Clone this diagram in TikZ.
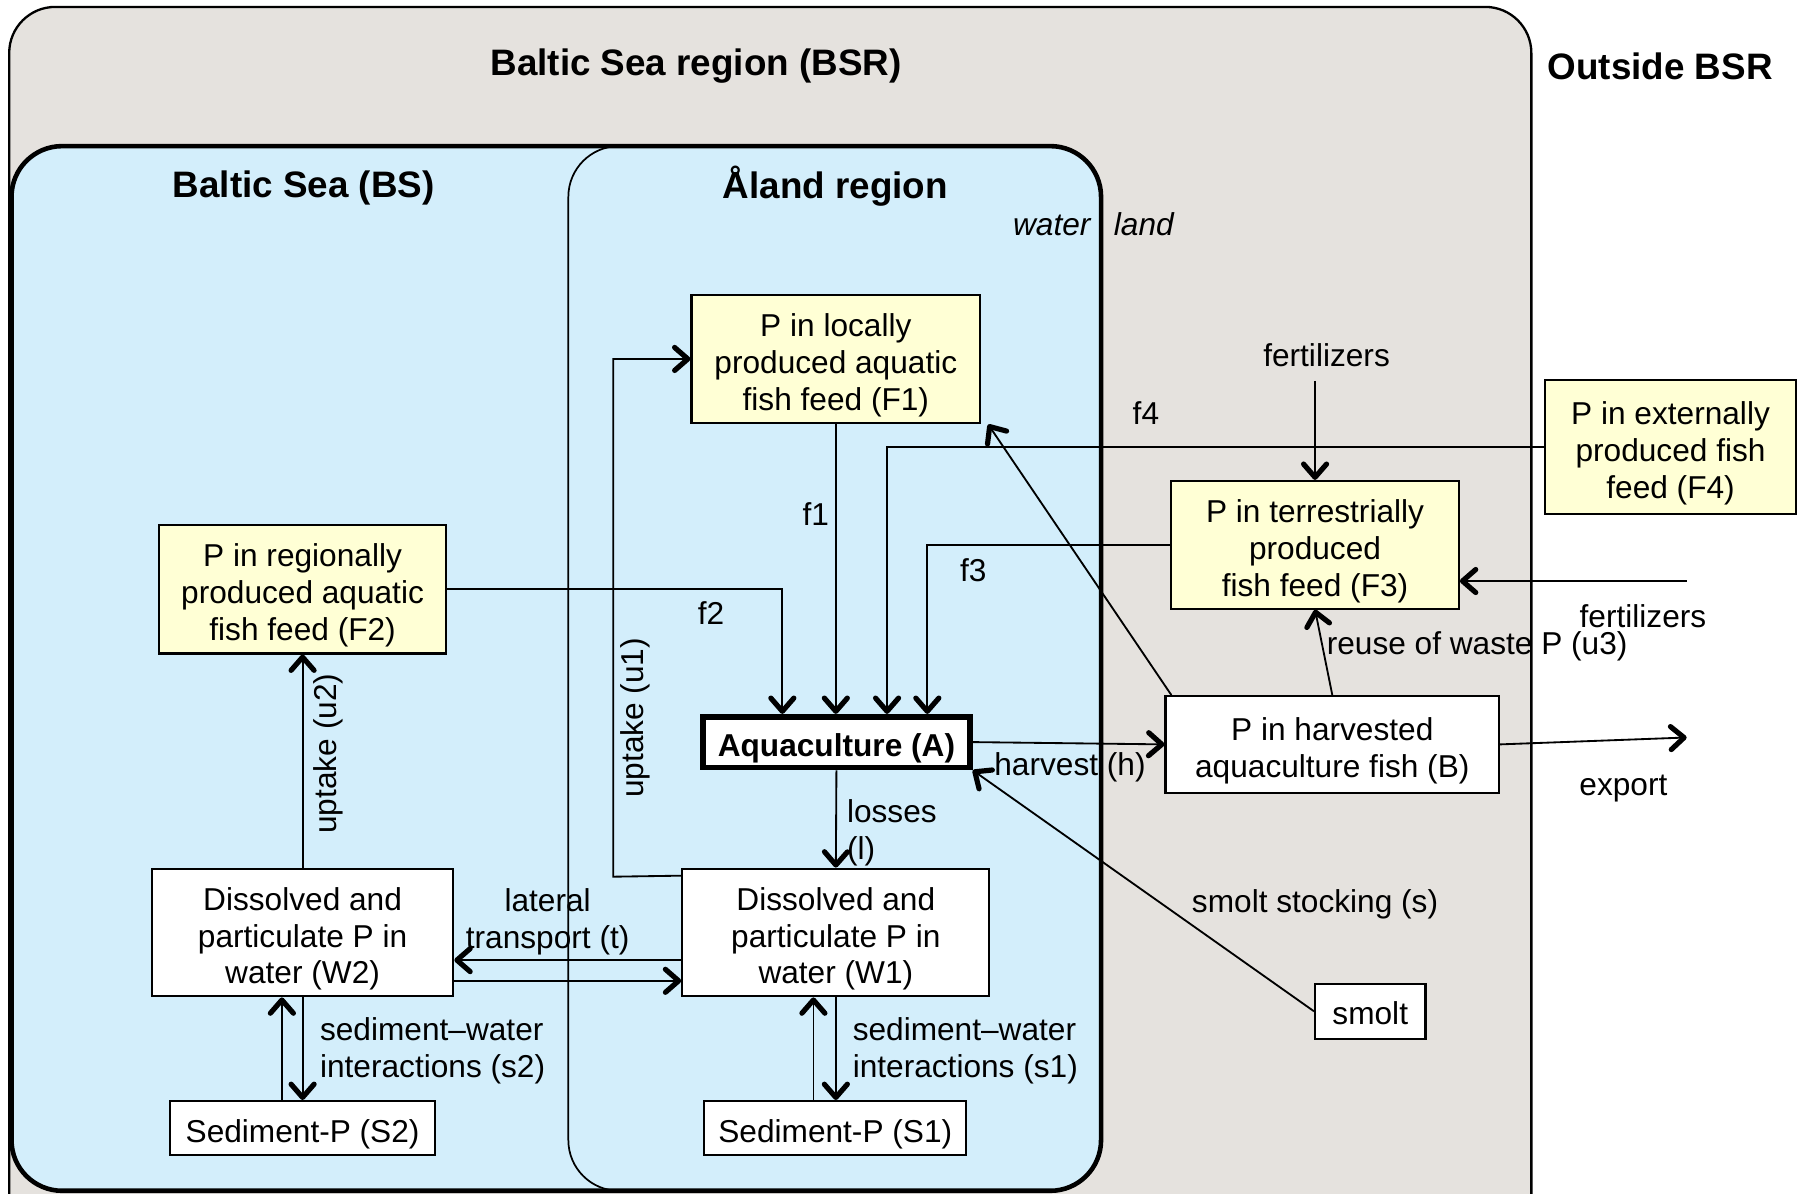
\documentclass[tikz,border=0pt]{standalone}
\usepackage{fontspec}
\setmainfont{Liberation Sans}
\usetikzlibrary{arrows.meta,calc}
\definecolor{bsrgray}{RGB}{229,226,222}
\definecolor{bsblue}{RGB}{211,238,251}
\definecolor{feedyellow}{RGB}{255,255,213}
\tikzset{
  box/.style={draw=black, line width=1.8pt, fill=white, inner sep=0pt},
  feed/.style={box, fill=feedyellow},
  boxlbl/.style={font=\fontsize{27.5}{32}\selectfont, inner sep=0pt, align=center, yshift=-5.5pt},
  txt/.style={label={[boxlbl]center:{#1}}},
  btxt/.style={label={[boxlbl, font=\fontsize{27.5}{32}\selectfont\bfseries]center:{#1}}},
  lbl/.style={font=\fontsize{27.5}{32}\selectfont, inner sep=0pt, align=center},
  ttl/.style={font=\fontsize{32}{38}\selectfont\bfseries, inner sep=0pt},
  arr/.style={line width=1.6pt, -{Straight Barb[length=11.5pt,width=20pt,line width'=4.5pt, round]}},
}
\begin{document}
\begin{tikzpicture}[x=1pt,y=-1pt]
\useasboundingbox (0,0) rectangle (1568,1037);
\clip (0,0) rectangle (1568,1037);
\fill[white] (0,0) rectangle (1568,1037);
% regions
\draw[line width=2pt, fill=bsrgray, rounded corners=40pt] (8,6) rectangle (1331,1100);
\fill[bsblue, rounded corners=44pt] (10,127) rectangle (957,1035);
\draw[line width=1.5pt, rounded corners=44pt] (494,127) rectangle (957,1035);
\draw[line width=4pt, rounded corners=44pt] (10,127) rectangle (957,1035);
% titles
\node[ttl] (tBSR) at (605,57) {Baltic Sea region (BSR)};
\node[ttl] (tOut) at (1443,58) {Outside BSR};
\node[ttl] (tBS) at (264,163) {Baltic Sea (BS)};
\node[ttl] (tAl) at (726,162) {Åland region};
\node[lbl, font=\fontsize{27.5}{32}\selectfont\itshape, anchor=mid east] (wat) at (948,202) {water};
\node[lbl, font=\fontsize{27.5}{32}\selectfont\itshape, anchor=mid west] (land) at (968,202) {land};
% boxes
\node[feed, minimum width=251pt, minimum height=112pt, txt={P in locally\\produced aquatic\\fish feed (F1)}] (F1) at (726.5,312) {};
\node[feed, minimum width=250pt, minimum height=112pt, txt={P in regionally\\produced aquatic\\fish feed (F2)}] (F2) at (263,512) {};
\node[feed, minimum width=250pt, minimum height=111pt, txt={P in terrestrially\\produced\\fish feed (F3)}] (F3) at (1143,473.5) {};
\node[feed, minimum width=218pt, minimum height=117pt, txt={P in externally\\produced fish\\feed (F4)}] (F4) at (1452,388.5) {};
\node[box, line width=5pt, minimum width=232pt, minimum height=44pt, btxt={Aquaculture (A)}] (A) at (727,645) {};
\node[box, minimum width=290pt, minimum height=84pt, txt={P in harvested\\aquaculture fish (B)}] (B) at (1158,647) {};
\node[box, minimum width=262pt, minimum height=111pt, txt={Dissolved and\\particulate P in\\water (W2)}] (W2) at (263,810.5) {};
\node[box, minimum width=267pt, minimum height=111pt, txt={Dissolved and\\particulate P in\\water (W1)}] (W1) at (726.5,810.5) {};
\node[box, minimum width=230pt, minimum height=47pt, txt={Sediment-P (S2)}] (S2) at (263,980.5) {};
\node[box, minimum width=228pt, minimum height=47pt, txt={Sediment-P (S1)}] (S1) at (726,980.5) {};
\node[box, minimum width=96pt, minimum height=48pt, label={[lbl, yshift=-2pt]center:smolt}] (smolt) at (1191,879) {};
% labels
\node[lbl] (lf1) at (709,447) {f1};
\node[lbl] (lf2) at (618,533) {f2};
\node[lbl] (lf3) at (846,496) {f3};
\node[lbl] (lf4) at (996,359) {f4};
\node[lbl] (lfertT) at (1153,309) {fertilizers};
\node[lbl] (lfertR) at (1428,536) {fertilizers};
\node[lbl, anchor=mid west] (lu3) at (1153,566) {reuse of waste P (u3)};
\node[lbl] (lh) at (930,667) {harvest (h)};
\node[lbl] (lexp) at (1411,685) {export};
\node[lbl] (lsm) at (1143,786) {smolt stocking (s)};
\node[lbl, align=left, anchor=west] (ll) at (736,724) {losses\\(l)};
\node[lbl] (lt) at (476,801) {lateral\\transport (t)};
\node[lbl, align=left, anchor=west] (ls2) at (278,913) {sediment–water\\interactions (s2)};
\node[lbl, align=left, anchor=west] (ls1) at (741,913) {sediment–water\\interactions (s1)};
\node[lbl, rotate=90] (lu1) at (552,624) {uptake (u1)};
\node[lbl, rotate=90] (lu2) at (285,655) {uptake (u2)};
% connectors
\draw[arr] (F1.south) -- (F1.south |- A.north);
\draw[arr] (F2.east) -| ([xshift=-47pt]A.north);
\draw[arr] (F4.west) -| ([xshift=44pt]A.north);
\draw[arr] (F3.west) -| ([xshift=79pt]A.north);
\coordinate (ft) at (1143,331);
\draw[arr] (ft) -- (F3.north);
\coordinate (fr) at (1466,505);
\draw[arr] (fr) -- (fr -| F3.east);
\draw[arr] (B.north) -- (F3.south);
\draw[arr] ([xshift=6pt]B.north west) -- ([xshift=6pt]F1.south east);
\draw[arr] (A.east) -- (B.west);
\coordinate (expt) at (1466,641);
\draw[arr] (B.east) -- (expt);
\draw[arr] (smolt.west) -- (A.south east);
\draw[arr] (A.south) -- (W1.north);
\coordinate (u1c) at (533,762);
\draw[arr] ([yshift=-7pt]W1.north west) -- (u1c) |- (F1.west);
\draw[arr] (W2.north) -- (F2.south);
\draw[arr] ([yshift=-24pt]W1.west) -- ([yshift=-24pt]W2.east);
\draw[arr] ([yshift=-42pt]W2.east) -- ([yshift=-42pt]W1.west);
\draw[arr] (W2.south) -- (W2.south |- S2.north);
\draw[arr] ([xshift=-18pt]S2.north) -- ([xshift=-18pt]S2.north |- W2.south);
\draw[arr] (W1.south) -- (W1.south |- S1.north);
\draw[arr] ([xshift=-19pt]S1.north) -- ([xshift=-19pt]S1.north |- W1.south);
\end{tikzpicture}
\end{document}
